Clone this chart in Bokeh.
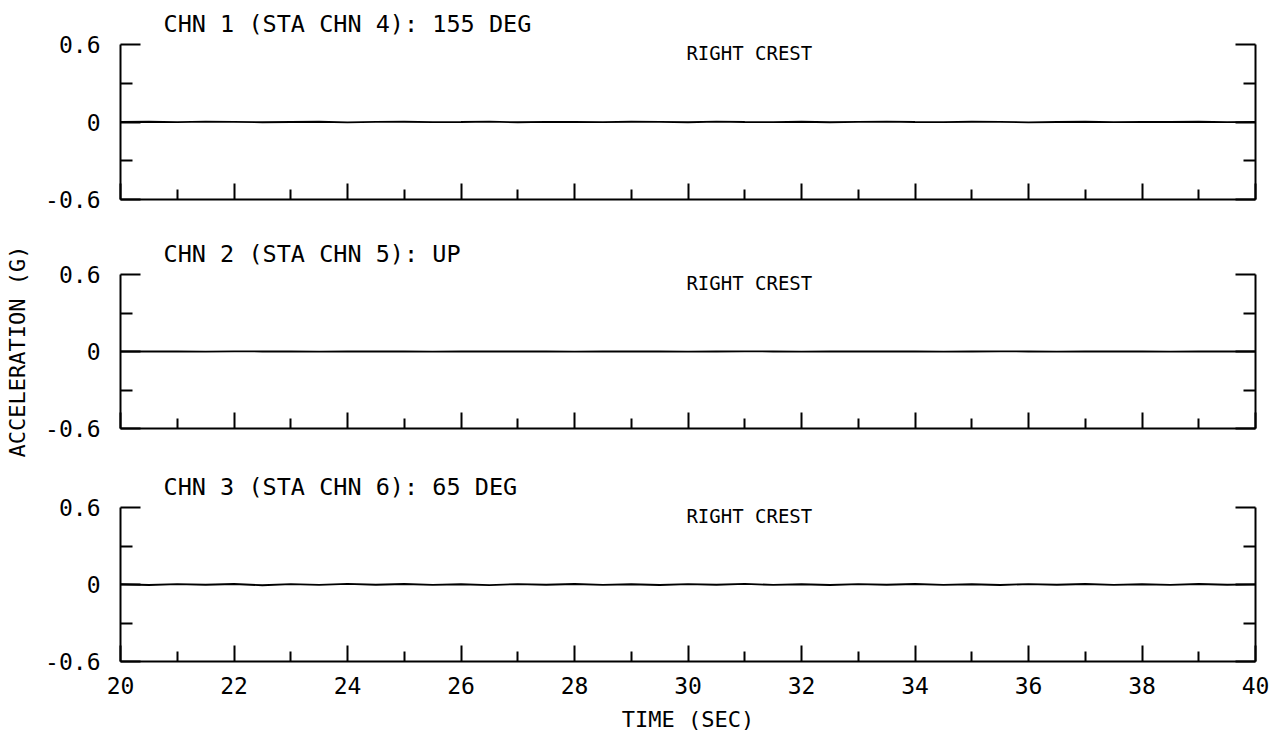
from bokeh.plotting import figure
from bokeh.layouts import column
from bokeh.models import LinearAxis, FixedTicker, Label, Range1d, CustomJSTickFormatter
from bokeh.embed import file_html
from bokeh.resources import INLINE

FONT = "DejaVu Sans Mono"

# ---- data ----
time = [20.0, 20.5, 21.0, 21.5, 22.0, 22.5, 23.0, 23.5, 24.0, 24.5,
        25.0, 25.5, 26.0, 26.5, 27.0, 27.5, 28.0, 28.5, 29.0, 29.5,
        30.0, 30.5, 31.0, 31.5, 32.0, 32.5, 33.0, 33.5, 34.0, 34.5,
        35.0, 35.5, 36.0, 36.5, 37.0, 37.5, 38.0, 38.5, 39.0, 39.5,
        40.0]
chn1 = [0.000, 0.002, -0.001, 0.003, 0.001, -0.002, 0.000, 0.002, -0.003, 0.001,
        0.002, -0.001, 0.000, 0.003, -0.002, 0.001, 0.000, -0.001, 0.002, 0.001,
        -0.002, 0.003, 0.000, -0.001, 0.002, -0.002, 0.001, 0.003, 0.000, -0.001,
        0.002, 0.001, -0.003, 0.000, 0.002, -0.001, 0.001, 0.000, 0.002, -0.001,
        0.000]
chn2 = [0.000, 0.001, 0.000, -0.001, 0.001, 0.000, 0.001, -0.001, 0.000, 0.001,
        0.000, -0.001, 0.001, 0.000, 0.000, 0.001, -0.001, 0.000, 0.001, 0.000,
        -0.001, 0.000, 0.001, 0.000, -0.001, 0.001, 0.000, 0.000, 0.001, -0.001,
        0.000, 0.001, 0.000, -0.001, 0.000, 0.001, 0.000, -0.001, 0.001, 0.000,
        0.000]
chn3 = [0.002, -0.004, 0.003, -0.002, 0.004, -0.006, 0.003, -0.003, 0.005, -0.002,
        0.004, -0.003, 0.002, -0.005, 0.003, -0.002, 0.004, -0.003, 0.002, -0.004,
        0.003, -0.002, 0.005, -0.003, 0.002, -0.004, 0.003, -0.002, 0.004, -0.003,
        0.002, -0.004, 0.003, -0.002, 0.004, -0.003, 0.002, -0.003, 0.004, -0.002,
        0.001]

titles = ["CHN 1 (STA CHN 4): 155 DEG", "CHN 2 (STA CHN 5): UP", "CHN 3 (STA CHN 6): 65 DEG"]
location_label = "RIGHT CREST"
x_major = [20, 22, 24, 26, 28, 30, 32, 34, 36, 38, 40]
x_minor = [21, 23, 25, 27, 29, 31, 33, 35, 37, 39]
y_major = [-0.6, 0, 0.6]
y_minor = [-0.3, 0.3]
y_labels = {-0.6: "-0.6", 0: "0", 0.6: "0.6"}
x_title = "TIME (SEC)"
y_title = "ACCELERATION (G)"
X0, X1, Y0, Y1 = 20, 40, -0.6, 0.6


def style_axis(ax, major_in, minor_in):
    ax.axis_line_width = 2
    ax.axis_line_color = "black"
    ax.major_tick_line_width = 2
    ax.minor_tick_line_width = 2
    ax.major_tick_line_color = "black"
    ax.minor_tick_line_color = "black"
    ax.major_tick_in = major_in
    ax.major_tick_out = 0
    ax.minor_tick_in = minor_in
    ax.minor_tick_out = 0
    ax.major_label_text_color = "black"
    ax.axis_label_text_color = "black"


def panel(title, values, frame_h, bottom, last, middle):
    p = figure(frame_width=1135, frame_height=frame_h,
               x_range=Range1d(X0, X1), y_range=Range1d(Y0, Y1),
               output_backend="svg", toolbar_location=None,
               min_border_left=120, min_border_right=20,
               min_border_top=44, min_border_bottom=bottom)
    p.outline_line_color = None
    p.xgrid.visible = False
    p.ygrid.visible = False

    p.title.text = title
    p.title.text_font = FONT
    p.title.text_font_size = "23.5px"
    p.title.text_font_style = "normal"
    p.title.text_color = "black"
    p.title.align = "left"
    p.title.offset = 43
    p.title.standoff = 13

    xa = p.xaxis[0]
    xa.ticker = FixedTicker(ticks=x_major, minor_ticks=x_minor)
    style_axis(xa, 16, 10)
    if last:
        xa.major_label_text_font = FONT
        xa.major_label_text_font_size = "23px"
        xa.major_label_text_line_height = 1.0
        xa.major_label_standoff = 15
        xa.axis_label = x_title
        xa.axis_label_text_font = FONT
        xa.axis_label_text_font_size = "22px"
        xa.axis_label_text_line_height = 1.0
        xa.axis_label_text_font_style = "normal"
        xa.axis_label_standoff = 10
    else:
        xa.formatter = CustomJSTickFormatter(code="return ''")
        xa.major_label_text_font_size = "1px"
        xa.major_label_standoff = 0

    ya = p.yaxis[0]
    ya.ticker = FixedTicker(ticks=y_major, minor_ticks=y_minor)
    ya.major_label_overrides = y_labels
    style_axis(ya, 20, 12)
    ya.major_label_text_font = FONT
    ya.major_label_text_font_size = "23px"
    ya.major_label_standoff = 20
    if middle:
        ya.axis_label = y_title
        ya.axis_label_text_font = FONT
        ya.axis_label_text_font_size = "22px"
        ya.axis_label_text_font_style = "normal"
        ya.axis_label_standoff = 12

    ra = LinearAxis(ticker=FixedTicker(ticks=y_major, minor_ticks=y_minor),
                    formatter=CustomJSTickFormatter(code="return ''"),
                    major_label_text_font_size="1px",
                    major_label_standoff=0)
    style_axis(ra, 20, 12)
    p.add_layout(ra, "right")

    p.line(time, values, line_color="black", line_width=1.8)

    p.add_layout(Label(x=31.08, y=Y1, y_offset=-8, text=location_label,
                       text_align="center", text_baseline="alphabetic",
                       text_font=FONT, text_font_size="19px", text_color="black"))
    return p


p1 = panel(titles[0], chn1, 155, 31, False, False)
p2 = panel(titles[1], chn2, 154, 35, False, True)
p3 = panel(titles[2], chn3, 154, 74, True, False)

layout = column(p1, p2, p3, spacing=0)
open("out.html", "w").write(file_html(layout, INLINE))
